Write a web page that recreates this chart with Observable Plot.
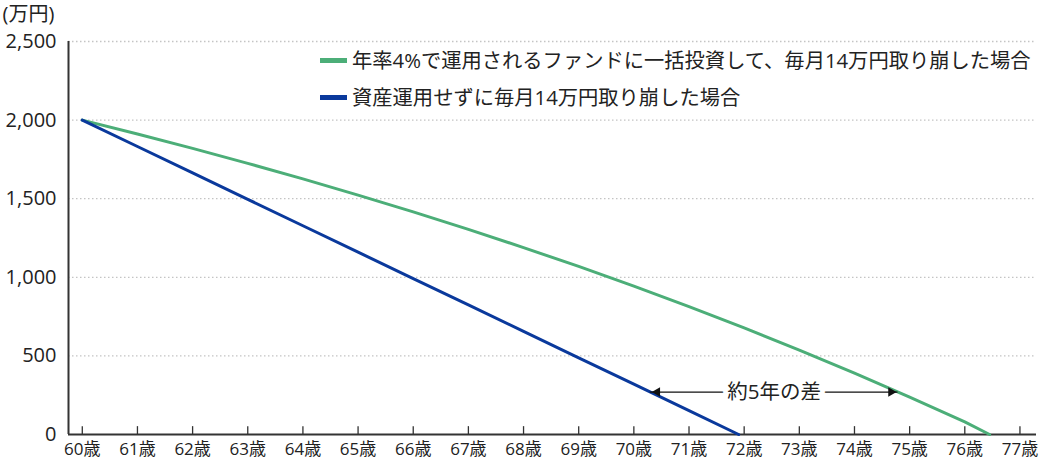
<!DOCTYPE html>
<html><head><meta charset="utf-8">
<script src="https://cdn.jsdelivr.net/npm/d3@7"></script>
<script src="https://cdn.jsdelivr.net/npm/@observablehq/plot@0.6"></script>
<style>
html,body{margin:0;padding:0;background:#fff;}
#wrap{position:relative;width:1040px;height:469px;font-family:"Open Sans","Noto Sans CJK JP",sans-serif;color:#222;}
#legend{position:absolute;left:320px;top:42px;font-size:20.3px;line-height:37px;white-space:nowrap;}
#legend .row{display:flex;align-items:center;}
#legend .sw{display:inline-block;width:27px;height:5px;margin-right:5px;}
</style></head><body>
<div id="wrap"><div id="legend"></div></div>
<script>
// ---- data ----
const ageTicks = [60,61,62,63,64,65,66,67,68,69,70,71,72,73,74,75,76,77];
const yTicks = [0,500,1000,1500,2000,2500];
const fundAges   = [60,61,62,63,64,65,66,67,68,69,70,71,72,73,74,75,76,76.45];
const fundValues = [2000,1912,1820,1725,1626,1523,1416,1305,1189,1069,944,813,678,537,390,238,80,0];
const cashAges   = [60,61,62,63,64,65,66,67,68,69,70,71,71.9];
const cashValues = [2000,1832,1664,1496,1328,1160,992,824,656,488,320,152,0];
const seriesLabels = ["年率4%で運用されるファンドに一括投資して、毎月14万円取り崩した場合","資産運用せずに毎月14万円取り崩した場合"];
const seriesColors = ["#4cae78","#0a399c"];
const unitLabel = "(万円)";
const gapLabel = "約5年の差";
const gapValue = 270;

// ---- build ----
const fund = fundAges.map((a,i)=>({age:a, value:fundValues[i]}));
const cash = cashAges.map((a,i)=>({age:a, value:cashValues[i]}));
function ageAt(xs, ys, v){
  for(let i=0;i<ys.length-1;i++){
    if(ys[i]>=v && ys[i+1]<=v) return xs[i] + (ys[i]-v)/(ys[i]-ys[i+1])*(xs[i+1]-xs[i]);
  }
  return xs[xs.length-1];
}
const leftAge = ageAt(cashAges, cashValues, gapValue);
const rightAge = ageAt(fundAges, fundValues, gapValue);
const midAge = (leftAge+rightAge)/2;
const xMin = 59.75;

const font = '"Open Sans","Noto Sans CJK JP",sans-serif';
const chart = Plot.plot({
  width: 1040, height: 469,
  marginLeft: 68, marginRight: 4, marginTop: 41, marginBottom: 35,
  style: {fontFamily: font, background: "white", color: "#222", overflow: "visible"},
  x: {domain: [xMin, 77.3]},
  y: {domain: [0, 2500]},
  marks: [
    Plot.gridY(yTicks.filter(d=>d>0), {stroke: "#c4c4c4", strokeOpacity: 1, strokeDasharray: "1.5,2.5", strokeWidth: 1.3}),
    Plot.axisY({ticks: yTicks, tickFormat: d3.format(","), tickSize: 0, tickPadding: 12, fontSize: 20, label: null, fill: "#222"}),
    Plot.axisX({ticks: ageTicks, tickFormat: d => d + "歳", tickSize: 0, tickPadding: 8, fontSize: 17, label: null, fill: "#222"}),
    Plot.ruleX(ageTicks, {x: d=>d, y1: 0, y2: 50, stroke: "#333", strokeWidth: 1.3}),
    Plot.ruleY([0], {stroke: "#333", strokeWidth: 2}),
    Plot.ruleX([xMin], {y1: 0, y2: 2500, stroke: "#333", strokeWidth: 2}),
    Plot.line(fund, {x: "age", y: "value", stroke: seriesColors[0], strokeWidth: 3}),
    Plot.line(cash, {x: "age", y: "value", stroke: seriesColors[1], strokeWidth: 3}),
    Plot.ruleY([gapValue], {x1: leftAge, x2: rightAge, stroke: "#111", strokeWidth: 1.3}),
    Plot.dot([leftAge], {x: d=>d, y: gapValue, symbol: "triangle2", rotate: -90, r: 4.6, fill: "#111", stroke: null, dx: 7}),
    Plot.dot([rightAge], {x: d=>d, y: gapValue, symbol: "triangle2", rotate: 90, r: 4.6, fill: "#111", stroke: null, dx: -7}),
    Plot.text([gapLabel], {x: midAge, y: gapValue, fontSize: 20.5, fill: "#222", stroke: "white", strokeWidth: 10, lineAnchor: "middle"}),
    Plot.text([unitLabel], {frameAnchor: "top-left", dx: -66, dy: -27, fontSize: 20, fill: "#222", textAnchor: "start", lineAnchor: "middle"})
  ]
});
const wrap = document.getElementById("wrap");
wrap.insertBefore(chart, wrap.firstChild);
chart.style.position = "absolute"; chart.style.left = "0"; chart.style.top = "0";
const legend = document.getElementById("legend");
seriesLabels.forEach((t,i)=>{
  const row = document.createElement("div"); row.className = "row";
  const sw = document.createElement("span"); sw.className = "sw"; sw.style.background = seriesColors[i];
  const tx = document.createElement("span"); tx.textContent = t;
  row.appendChild(sw); row.appendChild(tx); legend.appendChild(row);
});
</script>
</body></html>
